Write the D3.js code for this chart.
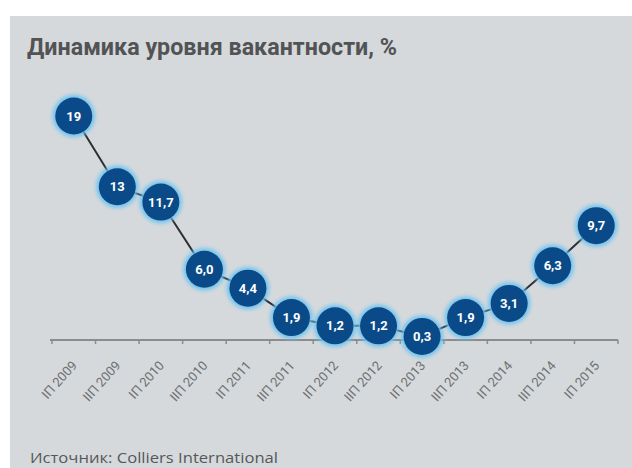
<!DOCTYPE html>
<html>
<head>
<meta charset="utf-8">
<script src="https://cdn.jsdelivr.net/npm/d3@7"></script>
<style>
  html, body { margin: 0; padding: 0; background: #ffffff; }
  svg { display: block; }
</style>
</head>
<body>
<svg id="chart" width="632" height="468"></svg>
<script>
// Vacancy rate by half-year, %
const periods = ["IП 2009", "IIП 2009", "IП 2010", "IIП 2010", "IП 2011", "IIП 2011",
                 "IП 2012", "IIП 2012", "IП 2013", "IIП 2013", "IП 2014", "IIП 2014", "IП 2015"];
const vacancy = [19, 13, 11.7, 6.0, 4.4, 1.9, 1.2, 1.2, 0.3, 1.9, 3.1, 6.3, 9.7];
const valueLabels = ["19", "13", "11,7", "6,0", "4,4", "1,9", "1,2", "1,2", "0,3", "1,9", "3,1", "6,3", "9,7"];

const titleText = "Динамика уровня вакантности, %";
const sourceText = "Источник: Colliers International";

const svg = d3.select("#chart");
const W = 632, H = 468;

// gray panel
svg.append("rect")
  .attr("x", 10).attr("y", 16)
  .attr("width", W - 10).attr("height", H - 16)
  .attr("fill", "#d6d9dc");

const defs = svg.append("defs");
const glow = defs.append("filter").attr("id", "glow")
  .attr("x", "-50%").attr("y", "-50%").attr("width", "200%").attr("height", "200%");
glow.append("feGaussianBlur").attr("stdDeviation", 2);

svg.append("text")
  .attr("x", 27).attr("y", 55)
  .attr("font-family", "Roboto, 'Open Sans', sans-serif")
  .attr("font-weight", 700)
  .attr("font-size", 24)
  .attr("fill", "#525355")
  .attr("textLength", 370)
  .attr("lengthAdjust", "spacingAndGlyphs")
  .text(titleText);

const x = d3.scaleBand().domain(periods).range([52, 618]);
const y = d3.scaleLinear().domain([0, 19]).range([340, 116]);

// axis
const axisG = svg.append("g").attr("transform", "translate(0,340)");
axisG.append("line")
  .attr("x1", 50).attr("x2", 618)
  .attr("stroke", "#8a8c8e").attr("stroke-width", 2);
const edges = periods.map(p => x(p)).concat([x.range()[1]]);
axisG.selectAll("line.tick").data(edges).join("line")
  .attr("class", "tick")
  .attr("x1", d => d).attr("x2", d => d)
  .attr("y1", 0).attr("y2", 4)
  .attr("stroke", "#8a8c8e").attr("stroke-width", 1.5);

axisG.selectAll("text.lbl").data(periods).join("text")
  .attr("class", "lbl")
  .attr("transform", d => `translate(${x(d) + x.bandwidth() / 2 + 4},${26}) rotate(-48)`)
  .attr("text-anchor", "end")
  .attr("font-family", "Roboto, 'Open Sans', sans-serif")
  .attr("font-size", 13)
  .attr("fill", "#6e7072")
  .text(d => d);

const cx = (d, i) => x(periods[i]) + x.bandwidth() / 2;

// connecting line
const line = d3.line().x((d, i) => cx(d, i)).y(d => y(d));
svg.append("path")
  .datum(vacancy)
  .attr("d", line)
  .attr("fill", "none")
  .attr("stroke", "#2b2f33")
  .attr("stroke-width", 2);

const pts = svg.selectAll("g.pt").data(vacancy).join("g")
  .attr("class", "pt")
  .attr("transform", (d, i) => `translate(${cx(d, i)},${y(d)})`);

pts.append("circle")
  .attr("r", 21)
  .attr("fill", "#6cc3f0")
  .attr("filter", "url(#glow)");
pts.append("circle")
  .attr("r", 18.5)
  .attr("fill", "#0b4a88");

pts.append("text")
  .attr("text-anchor", "middle")
  .attr("dy", "0.35em")
  .attr("font-family", "Roboto, 'Open Sans', sans-serif")
  .attr("font-weight", 700)
  .attr("font-size", 13)
  .attr("fill", "#ffffff")
  .text((d, i) => valueLabels[i]);

svg.append("text")
  .attr("x", 30).attr("y", 463)
  .attr("font-family", "'Open Sans', sans-serif")
  .attr("font-size", 14)
  .attr("fill", "#55575a")
  .attr("textLength", 248)
  .attr("lengthAdjust", "spacingAndGlyphs")
  .text(sourceText);
</script>
</body>
</html>
